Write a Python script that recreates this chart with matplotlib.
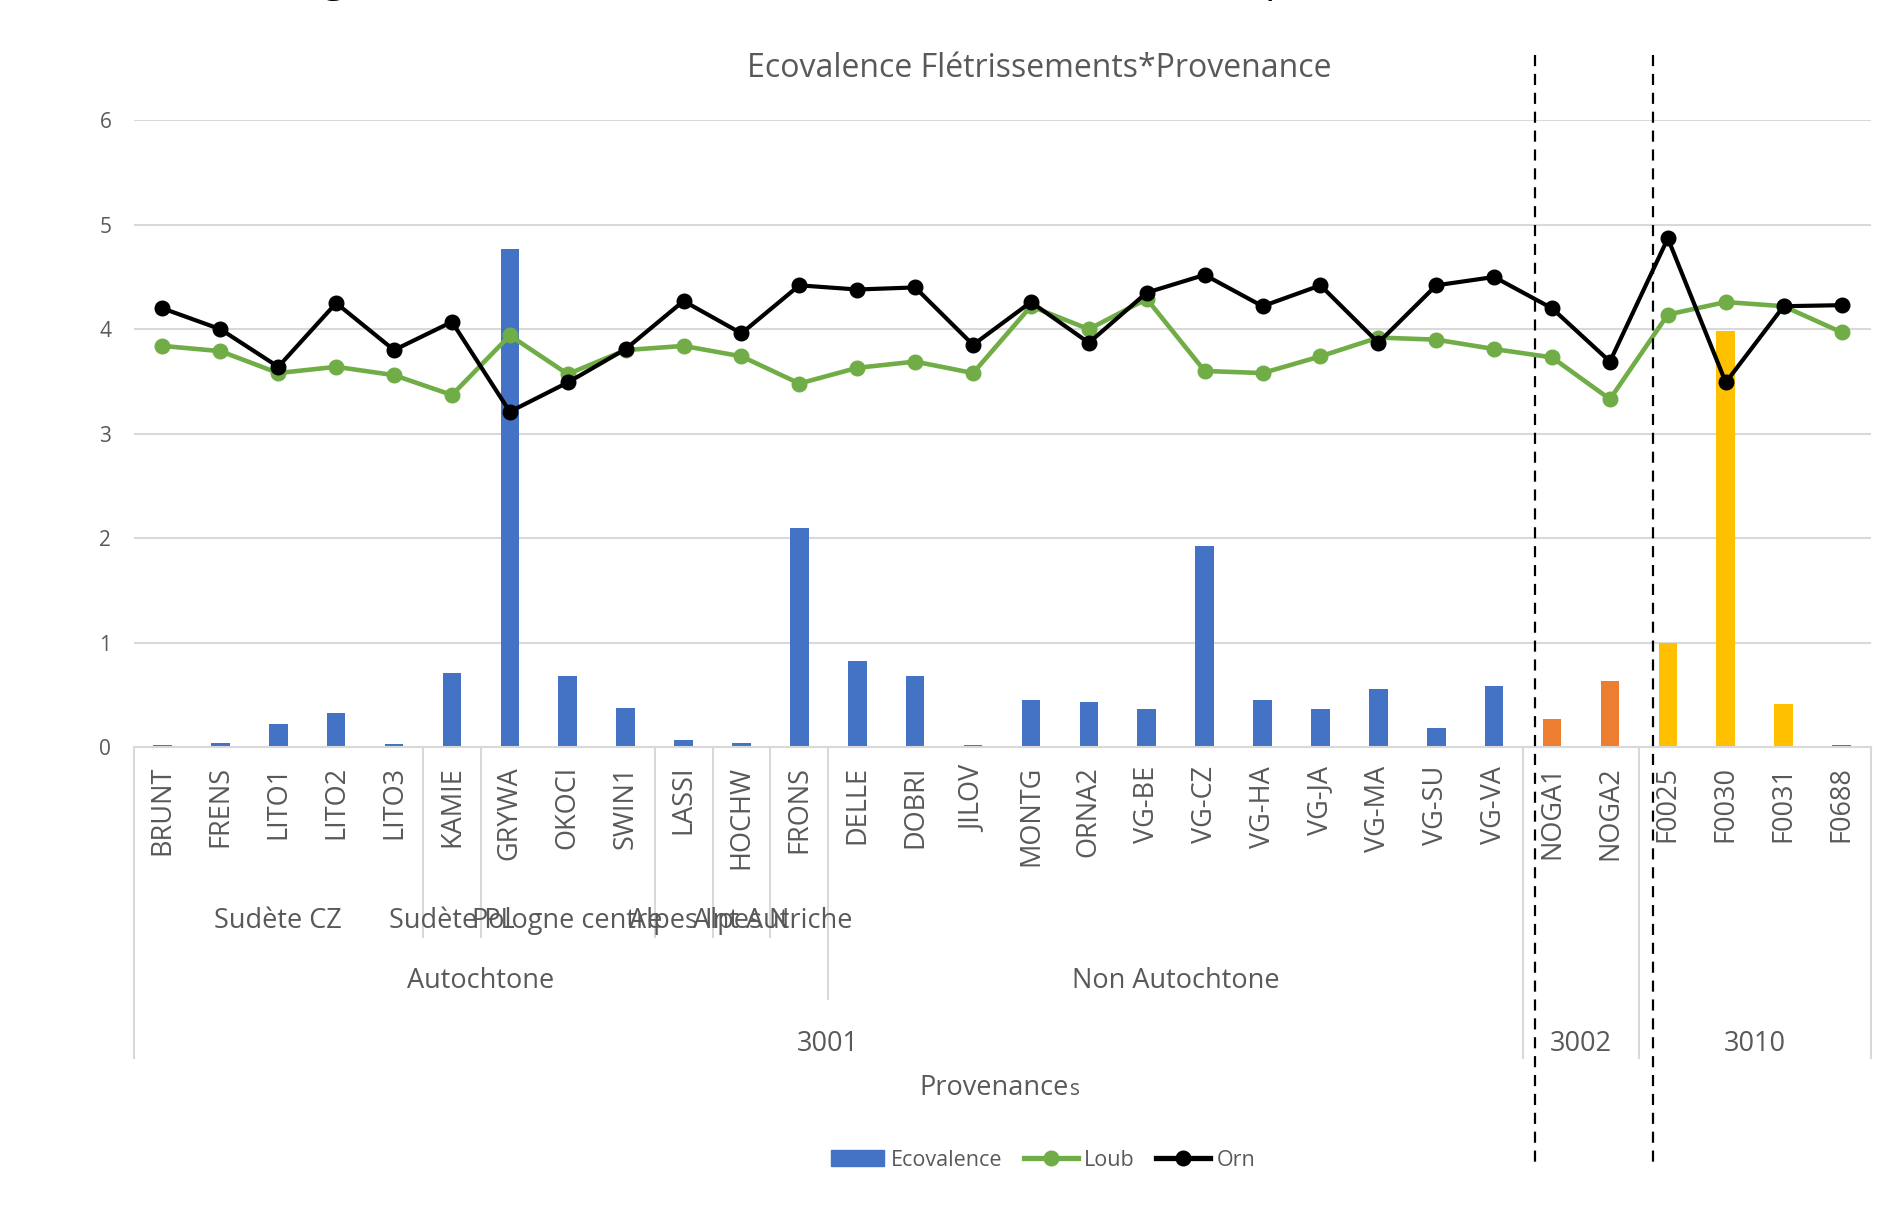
import matplotlib
matplotlib.use("Agg")
import matplotlib.pyplot as plt
from matplotlib.lines import Line2D
from matplotlib.patches import Patch
from matplotlib.transforms import blended_transform_factory
import numpy as np

plt.rcParams['font.family'] = ['Open Sans', 'DejaVu Sans']

# ---- data -------------------------------------------------------------
categories = ["BRUNT", "FRENS", "LITO1", "LITO2", "LITO3", "KAMIE", "GRYWA",
              "OKOCI", "SWIN1", "LASSI", "HOCHW", "FRONS", "DELLE", "DOBRI",
              "JILOV", "MONTG", "ORNA2", "VG-BE", "VG-CZ", "VG-HA", "VG-JA",
              "VG-MA", "VG-SU", "VG-VA", "NOGA1", "NOGA2", "F0025", "F0030",
              "F0031", "F0688"]

ecovalence = [0.015, 0.04, 0.22, 0.33, 0.03, 0.71, 4.77, 0.68, 0.375, 0.07,
              0.04, 2.10, 0.82, 0.68, 0.015, 0.45, 0.43, 0.365, 1.92, 0.45,
              0.365, 0.56, 0.18, 0.58, 0.27, 0.63, 1.00, 3.98, 0.41, 0.015]

loub = [3.84, 3.79, 3.58, 3.64, 3.56, 3.37, 3.94, 3.57, 3.80, 3.84,
        3.74, 3.48, 3.63, 3.69, 3.58, 4.22, 4.00, 4.29, 3.60, 3.58,
        3.74, 3.92, 3.90, 3.81, 3.73, 3.33, 4.14, 4.26, 4.22, 3.97]

orn = [4.20, 4.00, 3.64, 4.25, 3.80, 4.07, 3.21, 3.49, 3.81, 4.27,
       3.96, 4.42, 4.38, 4.40, 3.85, 4.26, 3.87, 4.35, 4.52, 4.22,
       4.42, 3.87, 4.42, 4.50, 4.20, 3.69, 4.87, 3.49, 4.22, 4.23]

region = (["Sudète CZ"] * 5 + ["Sudète PL"] + ["Pologne centre"] * 3 +
          ["Alpes Int"] + ["Alpes N"] + ["Autriche"] + [""] * 18)
origin = ["Autochtone"] * 12 + ["Non Autochtone"] * 12 + [""] * 6
lot = ["3001"] * 24 + ["3002"] * 2 + ["3010"] * 4

# ---- styles -----------------------------------------------------------
BLUE, ORANGE, YELLOW = "#4472C4", "#ED7D31", "#FFC000"
GREEN, GRID, TXT = "#70AD47", "#D9D9D9", "#595959"
lot_colors = {"3001": BLUE, "3002": ORANGE, "3010": YELLOW}
bar_colors = [lot_colors[l] for l in lot]
bar_colors[-1] = BLUE

W, H = 1886, 1208
fig = plt.figure(figsize=(W / 100, H / 100), dpi=100)


def fy(px):
    """pixel row (from top) -> figure fraction"""
    return 1 - px / H


def fx(px):
    return px / W


ax_left, ax_right = 133.5, 1870.5
y_top, y_bot = 120.3, 747
ax = fig.add_axes([fx(ax_left), fy(y_bot), (ax_right - ax_left) / W,
                   (y_bot - y_top) / H])

LW, MS = 3.3, 10.5
x = np.arange(len(categories))
ax.bar(x, ecovalence, width=0.32, color=bar_colors, zorder=2)
ax.plot(x, loub, color=GREEN, lw=LW, marker="o", ms=MS, zorder=3)
ax.plot(x, orn, color="black", lw=LW - 0.3, marker="o", ms=MS, zorder=4)

ax.set_xlim(-0.5, len(categories) - 0.5)
ax.set_ylim(0, 6)
ax.set_yticks(range(7))
ax.yaxis.grid(True, color=GRID, lw=1.5, zorder=0)
ax.set_axisbelow(True)
for s in ("top", "right", "left"):
    ax.spines[s].set_visible(False)
ax.spines["bottom"].set_color(GRID)
ax.spines["bottom"].set_linewidth(1.5)
ax.tick_params(axis="y", length=0, pad=16, labelsize=15, labelcolor=TXT)
ax.set_xticks(x)
ax.set_xticklabels(categories, rotation=90, va="top", ha="center")
ax.tick_params(axis="x", length=0, pad=13.5, labelsize=19.5, labelcolor=TXT)

# ---- multi-level category axis -------------------------------------------
trans = blended_transform_factory(ax.transData, fig.transFigure)
depth_bottom = {1: 937, 2: 999, 3: 1058}
n = len(categories)
for b in range(n + 1):
    if b == 0 or b == n or lot[b - 1] != lot[b]:
        d = 3
    elif origin[b - 1] != origin[b]:
        d = 2
    elif region[b - 1] != region[b]:
        d = 1
    else:
        continue
    fig.add_artist(Line2D([b - 0.5, b - 0.5], [fy(y_bot), fy(depth_bottom[d])],
                          transform=trans, color=GRID, lw=1.5))


def runs(labels):
    out, start = [], 0
    for i in range(1, len(labels) + 1):
        if i == len(labels) or labels[i] != labels[start]:
            out.append((labels[start], start, i - 1))
            start = i
    return out


for labels, base in ((region, 928), (origin, 988), (lot, 1051)):
    for name, a, b in runs(labels):
        if name:
            fig.text((a + b) / 2, fy(base), name, transform=trans,
                     ha="center", va="baseline", fontsize=19.5, color=TXT)

fig.text(fx(1069), fy(1095), "Provenance", ha="right", va="baseline",
         fontsize=19.5, color=TXT)
fig.text(fx(1070), fy(1095), "s", ha="left", va="baseline",
         fontsize=15, color=TXT)

# ---- title ----------------------------------------------------------------
fig.text(fx(1039), fy(77), "Ecovalence Flétrissements*Provenance",
         ha="center", va="baseline", fontsize=23, color=TXT)

# cropped heading line above the chart
fig.text(fx(334), fy(-9), "g", ha="center", va="baseline", fontsize=30,
         color="black")
fig.text(fx(1277), fy(-9), "p", ha="center", va="baseline", fontsize=30,
         color="black")

# ---- dashed separators between lots ------------------------------------------
for xd in (23.7, 25.74):
    fig.add_artist(Line2D([xd, xd], [fy(55), fy(1165)], transform=trans,
                          color="black", lw=1.6, ls=(0, (5, 3.5))))

# ---- legend -----------------------------------------------------------------
handles = [Patch(color=BLUE),
           Line2D([], [], color=GREEN, lw=LW + 0.5, marker="o", ms=MS),
           Line2D([], [], color="black", lw=LW + 0.5, marker="o", ms=MS)]
fig.legend(handles, ["Ecovalence", "Loub", "Orn"], loc="center",
           bbox_to_anchor=(fx(1043), fy(1160)), ncol=3, frameon=False,
           fontsize=15.5, labelcolor=TXT, handlelength=2.5,
           handletextpad=0.3, columnspacing=1.0, borderpad=0)

fig.savefig("out.png", dpi=100)
